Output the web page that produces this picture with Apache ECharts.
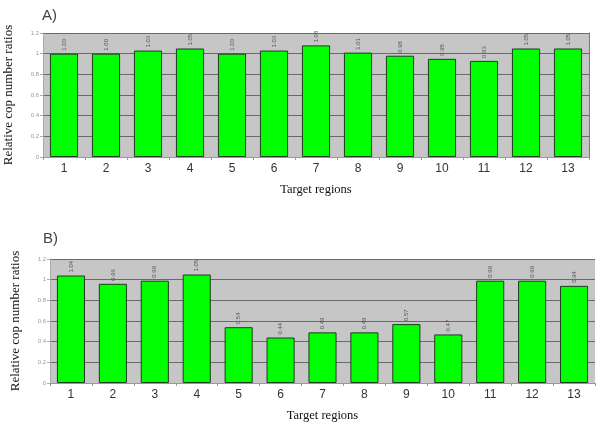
<!DOCTYPE html>
<html>
<head>
<meta charset="utf-8">
<script src="https://cdn.jsdelivr.net/npm/echarts@6/dist/echarts.min.js"></script>
<style>
  html, body { margin: 0; padding: 0; background: #fff; }
  #chart { width: 601px; height: 423px; }
</style>
</head>
<body>
<div id="chart"></div>
<script>
// target regions, shared by both panels
const regions = ["1", "2", "3", "4", "5", "6", "7", "8", "9", "10", "11", "12", "13"];
// panel A ratios
const ratiosA = [1.00, 1.00, 1.03, 1.05, 1.00, 1.03, 1.08, 1.01, 0.98, 0.95, 0.93, 1.05, 1.05];
// panel B ratios
const ratiosB = [1.04, 0.96, 0.99, 1.05, 0.54, 0.44, 0.49, 0.49, 0.57, 0.47, 0.99, 0.99, 0.94];
const yTicks = [0, 0.2, 0.4, 0.6, 0.8, 1, 1.2];

const chart = echarts.init(document.getElementById("chart"));

function xAxisFor(idx) {
  return {
    type: "category",
    gridIndex: idx,
    data: regions,
    name: "Target regions",
    nameLocation: "middle",
    nameGap: 26,
    nameTextStyle: { fontFamily: "Liberation Serif", fontSize: 12.5, color: "#111" },
    axisLine: { lineStyle: { color: "#999", width: 1 } },
    axisTick: { show: true, length: 3, lineStyle: { color: "#999" } },
    axisLabel: { fontFamily: "Liberation Sans", fontSize: 12, color: "#333", margin: 6 }
  };
}

function yAxisFor(idx) {
  return {
    type: "value",
    gridIndex: idx,
    min: 0,
    max: yTicks[yTicks.length - 1],
    interval: 0.2,
    name: "Relative cop number ratios",
    nameLocation: "middle",
    nameGap: 28,
    nameTextStyle: { fontFamily: "Liberation Serif", fontSize: 13, color: "#111" },
    axisLine: { show: true, lineStyle: { color: "#aaa" } },
    axisTick: { show: true, length: 3, lineStyle: { color: "#aaa" } },
    axisLabel: { fontSize: 6, color: "#999", margin: 4,
      formatter: v => String(Math.round(v * 10) / 10) },
    splitLine: { lineStyle: { color: "#6a6a6a", width: 1.2 } }
  };
}

function seriesFor(idx, data) {
  return {
    type: "bar",
    xAxisIndex: idx,
    yAxisIndex: idx,
    data: data,
    barWidth: "67%",
    itemStyle: { color: "#00ff00", borderColor: "#1e3d1e", borderWidth: 1 },
    label: {
      show: true,
      position: "top",
      rotate: 90,
      align: "left",
      verticalAlign: "middle",
      distance: 3,
      fontSize: 6,
      color: "#555",
      formatter: p => p.value.toFixed(2)
    },
    animation: false
  };
}

chart.setOption({
  backgroundColor: "#fff",
  title: [
    { text: "A)", left: 37, top: 3, textStyle: { fontFamily: "Liberation Sans", fontSize: 15, fontWeight: "normal", color: "#444" } },
    { text: "B)", left: 38, top: 226, textStyle: { fontFamily: "Liberation Sans", fontSize: 15, fontWeight: "normal", color: "#444" } }
  ],
  grid: [
    { left: 43, right: 12, top: 33, height: 124, backgroundColor: "#c6c6c6", show: true,
      borderWidth: 0, outerBoundsMode: "none" },
    { left: 50, right: 6, top: 259, height: 124, backgroundColor: "#c6c6c6", show: true,
      borderWidth: 0, outerBoundsMode: "none" }
  ],
  xAxis: [xAxisFor(0), xAxisFor(1)],
  yAxis: [
    yAxisFor(0), yAxisFor(1),
    // right edge line of panel A
    { type: "value", gridIndex: 0, position: "right", min: 0, max: 1.2,
      axisLine: { show: true, lineStyle: { color: "#777" } },
      axisTick: { show: false }, axisLabel: { show: false }, splitLine: { show: false } }
  ],
  series: [seriesFor(0, ratiosA), seriesFor(1, ratiosB)]
});
</script>
</body>
</html>
